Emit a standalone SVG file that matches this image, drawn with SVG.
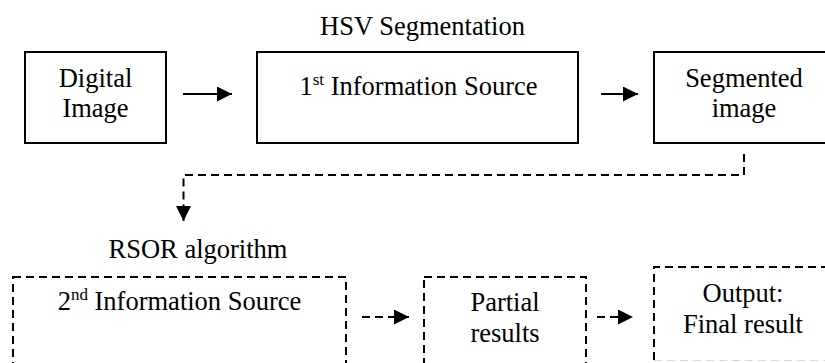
<svg xmlns="http://www.w3.org/2000/svg" width="825" height="363" viewBox="0 0 825 363">
<defs>
<style>
.box{fill:#fff;stroke:#000;stroke-width:2}
.dbox{fill:#fff;stroke:#000;stroke-width:2;stroke-dasharray:8 5}
.ln{fill:none;stroke:#000;stroke-width:2}
.dln{fill:none;stroke:#000;stroke-width:2;stroke-dasharray:8 5}
</style>
<marker id="ah" markerUnits="userSpaceOnUse" markerWidth="16" markerHeight="16" refX="15" refY="7.5" orient="auto">
<path d="M0,0 L15,7.5 L0,15 z" fill="#000"/>
</marker>
</defs>
<rect width="825" height="363" fill="#fff"/>
<text x="422.5" y="35" font-family="Liberation Serif, serif" font-size="26.5" text-anchor="middle">HSV Segmentation</text>
<text x="198" y="258" font-family="Liberation Serif, serif" font-size="26.5" text-anchor="middle">RSOR algorithm</text>
<g id="digital">
<rect class="box" x="25" y="52" width="141" height="91"/>
<text x="95.5" y="86.5" font-family="Liberation Serif, serif" font-size="26.5" text-anchor="middle">Digital</text>
<text x="95.5" y="117" font-family="Liberation Serif, serif" font-size="26.5" text-anchor="middle">Image</text>
</g>
<g id="info1">
<rect class="box" x="257" y="52" width="321" height="91"/>
<text x="418.5" y="95" font-family="Liberation Serif, serif" font-size="26.5" text-anchor="middle">1<tspan font-size="17" dy="-10">st</tspan><tspan dy="10"> Information Source</tspan></text>
</g>
<g id="segmented">
<rect class="box" x="654" y="52" width="200" height="91"/>
<text x="744" y="86.5" font-family="Liberation Serif, serif" font-size="26.5" text-anchor="middle">Segmented</text>
<text x="744" y="117" font-family="Liberation Serif, serif" font-size="26.5" text-anchor="middle">image</text>
</g>
<g id="info2">
<rect class="dbox" x="13" y="277" width="333" height="110"/>
<text x="179.5" y="310" font-family="Liberation Serif, serif" font-size="26.5" text-anchor="middle">2<tspan font-size="17" dy="-10">nd</tspan><tspan dy="10"> Information Source</tspan></text>
</g>
<g id="partial">
<rect class="dbox" x="424" y="277" width="162" height="110"/>
<text x="505" y="310.5" font-family="Liberation Serif, serif" font-size="26.5" text-anchor="middle">Partial</text>
<text x="505" y="341.5" font-family="Liberation Serif, serif" font-size="26.5" text-anchor="middle">results</text>
</g>
<g id="output">
<path class="dln" d="M654,360 L654,267 L830,267"/>
<line x1="654" y1="360.5" x2="825" y2="360.5" stroke="#d8d8d8" stroke-width="1" stroke-dasharray="8 5"/>
<text x="743" y="302" font-family="Liberation Serif, serif" font-size="26.5" text-anchor="middle">Output:</text>
<text x="743" y="333" font-family="Liberation Serif, serif" font-size="26.5" text-anchor="middle">Final result</text>
</g>
<g id="connectors">
<line class="ln" x1="183" y1="94" x2="232" y2="94" marker-end="url(#ah)"/>
<line class="ln" x1="601" y1="94" x2="638" y2="94" marker-end="url(#ah)"/>
<path class="dln" d="M744,154 L744,175 L183.5,175 L183.5,221" marker-end="url(#ah)"/>
<line class="dln" x1="362" y1="317" x2="409" y2="317" marker-end="url(#ah)"/>
<line class="dln" x1="597" y1="317" x2="633" y2="317" marker-end="url(#ah)"/>
</g>
</svg>
